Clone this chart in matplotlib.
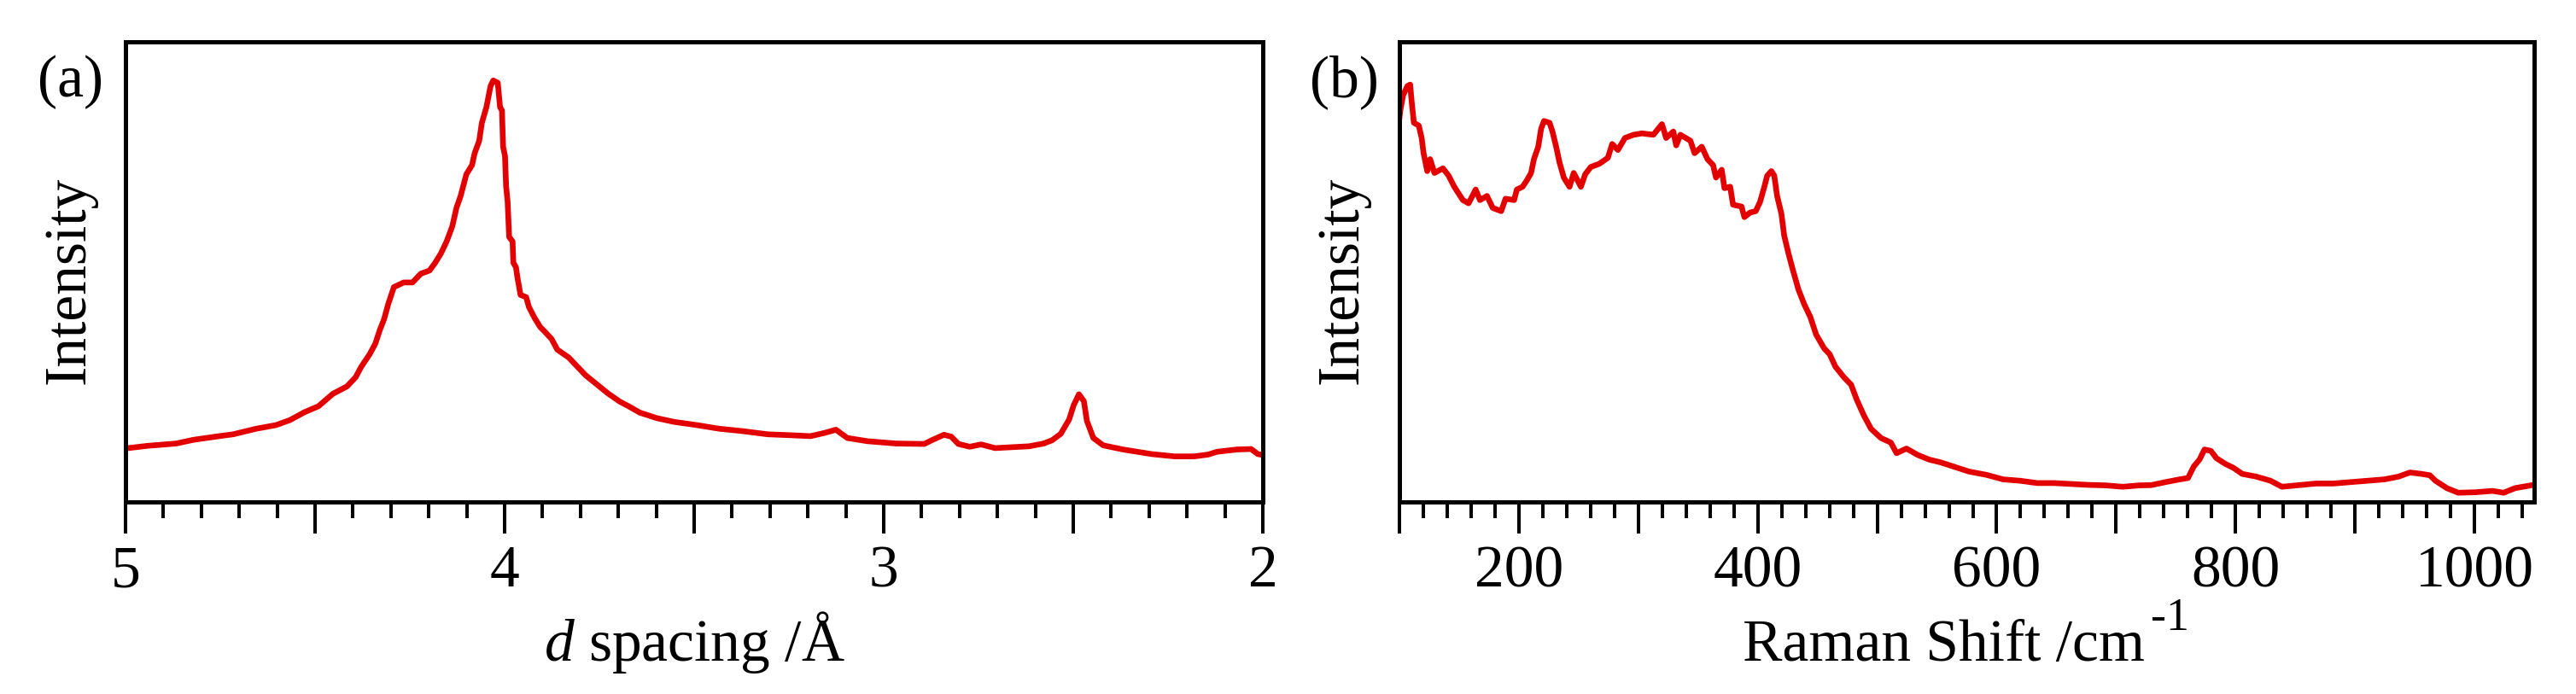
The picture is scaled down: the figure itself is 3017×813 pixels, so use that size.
import matplotlib
matplotlib.use("Agg")
import matplotlib.pyplot as plt
from matplotlib.ticker import MultipleLocator, FuncFormatter
import numpy as np

plt.rcParams['font.family'] = 'Liberation Serif'
plt.rcParams['mathtext.fontset'] = 'custom'
plt.rcParams['mathtext.rm'] = 'Liberation Serif'
plt.rcParams['mathtext.it'] = 'Liberation Serif:italic'

# (a) XRD pattern, d spacing in Angstrom vs intensity (arb. units)
d_spacing = [5.000, 4.993, 4.941, 4.866, 4.821, 4.753, 4.716, 4.656, 4.603, 4.566,
             4.528, 4.491, 4.453, 4.416, 4.393, 4.378, 4.356, 4.341, 4.329, 4.318,
             4.307, 4.292, 4.266, 4.243, 4.221, 4.198, 4.183, 4.168, 4.153, 4.138,
             4.127, 4.116, 4.101, 4.086, 4.079, 4.067, 4.060, 4.048, 4.037, 4.030,
             4.018, 4.012, 4.007, 4.004, 3.999, 3.996, 3.992, 3.988, 3.979, 3.977,
             3.970, 3.966, 3.958, 3.943, 3.936, 3.921, 3.906, 3.894, 3.876, 3.861,
             3.831, 3.808, 3.786, 3.756, 3.726, 3.696, 3.673, 3.643, 3.598, 3.553,
             3.493, 3.433, 3.373, 3.306, 3.246, 3.193, 3.156, 3.126, 3.096, 3.043,
             2.968, 2.893, 2.871, 2.841, 2.822, 2.803, 2.773, 2.743, 2.706, 2.661,
             2.616, 2.578, 2.556, 2.533, 2.511, 2.499, 2.485, 2.472, 2.464, 2.447,
             2.421, 2.369, 2.293, 2.233, 2.181, 2.144, 2.121, 2.068, 2.031, 2.013,
             2.000]
xrd_int = [11.6, 11.7, 12.2, 12.7, 13.5, 14.3, 14.7, 15.9, 16.7, 17.8,
           19.5, 20.8, 23.5, 25.1, 27.1, 29.4, 32.1, 34.4, 37.4, 39.7,
           43.0, 46.7, 47.7, 47.7, 49.6, 50.3, 52.0, 54.0, 56.6, 59.9,
           63.9, 66.5, 71.2, 73.2, 75.8, 78.5, 82.4, 85.8, 90.4, 91.6,
           91.1, 85.8, 85.1, 77.2, 75.2, 68.6, 65.2, 57.6, 56.6, 52.0,
           51.0, 48.7, 45.0, 44.5, 42.4, 40.0, 38.0, 37.0, 35.4, 33.1,
           31.4, 29.4, 27.5, 25.5, 23.5, 21.8, 20.8, 19.4, 18.2, 17.4,
           16.7, 15.9, 15.4, 14.7, 14.5, 14.3, 15.0, 15.7, 13.9, 13.2,
           12.7, 12.6, 13.5, 14.6, 14.2, 12.6, 12.0, 12.5, 11.7, 11.9,
           12.1, 12.7, 13.4, 14.8, 17.9, 21.0, 23.4, 21.9, 17.6, 13.9,
           12.3, 11.4, 10.4, 9.9, 9.9, 10.3, 10.9, 11.4, 11.5, 10.4,
           10.2]

# (b) Raman spectrum, shift in cm-1 vs intensity (arb. units)
raman_shift = [100.0, 100.7, 103.1, 106.7, 109.0, 110.2, 112.1, 116.2, 118.6, 120.2,
               123.3, 125.7, 129.3, 136.4, 141.2, 145.9, 153.1, 157.9, 163.8, 167.4,
               173.3, 178.1, 185.2, 188.8, 196.0, 198.3, 203.1, 206.7, 210.2, 212.6,
               216.2, 218.6, 221.0, 225.7, 228.1, 231.2, 234.0, 237.6, 242.4, 245.9,
               251.9, 255.5, 260.2, 267.4, 274.5, 278.1, 282.9, 288.8, 296.0, 303.1,
               312.6, 319.8, 323.3, 329.3, 331.7, 335.2, 343.6, 347.1, 353.1, 357.9,
               362.6, 365.0, 369.8, 372.1, 376.9, 379.3, 386.4, 388.8, 393.6, 398.3,
               401.9, 405.5, 407.9, 411.4, 413.8, 416.2, 419.8, 422.1, 425.7, 429.3,
               434.0, 438.8, 444.0, 448.8, 455.5, 460.2, 465.0, 472.1, 478.1, 482.9,
               488.8, 494.8, 503.1, 511.4, 516.2, 524.5, 534.0, 543.6, 553.1, 565.0,
               576.9, 591.2, 605.5, 619.8, 634.0, 648.3, 662.6, 676.9, 691.2, 705.5,
               719.8, 729.3, 741.2, 753.1, 760.2, 765.0, 769.8, 774.0, 779.3, 784.0,
               791.2, 798.3, 805.5, 817.4, 829.3, 838.8, 853.1, 867.4, 881.7, 896.0,
               910.2, 924.5, 936.4, 946.0, 955.5, 962.6, 967.4, 976.9, 986.4, 1000.7,
               1015.0, 1024.5, 1034.0, 1048.3, 1050.0]
raman_int = [83.5, 85.1, 88.4, 90.4, 90.7, 87.1, 82.4, 81.8, 79.1, 75.8,
             71.9, 74.5, 71.5, 72.5, 70.9, 68.5, 65.6, 64.9, 67.9, 65.6,
             66.5, 63.9, 63.2, 65.9, 65.6, 67.9, 68.5, 69.9, 71.5, 74.5,
             77.2, 81.1, 82.8, 82.4, 80.5, 77.2, 73.8, 70.5, 68.5, 71.5,
             68.5, 71.2, 72.8, 73.5, 74.8, 77.8, 76.5, 79.1, 79.8, 80.1,
             79.8, 82.1, 79.1, 80.5, 77.5, 79.8, 78.5, 75.8, 77.2, 74.5,
             73.2, 70.5, 72.2, 68.2, 68.5, 64.6, 64.2, 61.9, 62.9, 63.2,
             65.2, 68.5, 70.9, 71.9, 70.9, 66.5, 62.6, 57.9, 54.0, 50.5,
             46.2, 43.0, 40.2, 36.4, 33.4, 32.1, 29.4, 27.1, 25.5, 22.2,
             18.8, 15.9, 13.9, 12.9, 10.6, 11.6, 10.2, 9.2, 8.6, 7.6,
             6.6, 5.9, 4.9, 4.6, 4.1, 4.1, 3.9, 3.7, 3.6, 3.3,
             3.6, 3.65, 4.3, 4.9, 5.2, 7.7, 9.2, 11.4, 11.1, 9.5,
             8.3, 7.4, 6.1, 5.5, 4.6, 3.3, 3.65, 4.0, 4.0, 4.3,
             4.6, 4.9, 5.5, 6.4, 6.1, 5.8, 4.6, 3.0, 2.0, 2.1,
             2.4, 2.0, 3.0, 3.65, 3.8]

red = '#e30000'
fs = 50

fig = plt.figure(figsize=(30.17, 8.13), dpi=100)
ax1 = fig.add_axes([0.04872, 0.27675, 0.44150, 0.66298])
ax2 = fig.add_axes([0.54326, 0.27675, 0.44050, 0.66298])

ax1.plot(d_spacing, xrd_int, color=red, lw=4.8)
ax2.plot(raman_shift, raman_int, color=red, lw=4.8)

ax1.set_xlim(5, 2)
ax2.set_xlim(100, 1050)
for ax in (ax1, ax2):
    ax.set_ylim(0, 100)
    ax.set_yticks([])
    for s in ax.spines.values():
        s.set_linewidth(3.6)
    ax.tick_params(axis='x', which='major', direction='out', length=26.5,
                   width=2.9, labelsize=fs, pad=10, top=False)
    ax.tick_params(axis='x', which='minor', direction='out', length=13.7,
                   width=2.9, top=False)

ax1.xaxis.set_major_locator(MultipleLocator(0.5))
ax1.xaxis.set_minor_locator(MultipleLocator(0.1))
ax1.xaxis.set_major_formatter(FuncFormatter(
    lambda v, p: f"{v:.0f}" if abs(v - round(v)) < 1e-6 else ""))

ax2.xaxis.set_major_locator(MultipleLocator(100))
ax2.xaxis.set_minor_locator(MultipleLocator(20))
ax2.xaxis.set_major_formatter(FuncFormatter(
    lambda v, p: f"{v:.0f}" if round(v) % 200 == 0 else ""))

ax1.set_xlabel(r"$d$ spacing /Å", fontsize=fs, va='baseline')
ax2.set_xlabel("Raman Shift /cm", fontsize=fs, va='baseline')
ax1.xaxis.set_label_coords(0.5, -0.345)
ax2.xaxis.set_label_coords(0.48, -0.345)
# superscript "-1" written with a plain hyphen, as in the original
ax2.annotate("-1", xy=(1, 0), xycoords=ax2.xaxis.label,
             xytext=(5, 37), textcoords='offset points',
             fontsize=fs * 0.78, ha='left', va='baseline')

ax1.set_ylabel("Intensity", fontsize=fs, va='center')
ax2.set_ylabel("Intensity", fontsize=fs, va='center')
ax1.yaxis.set_label_coords(-0.0488, 0.4824)
ax2.yaxis.set_label_coords(-0.0497, 0.4824)

fig.text(0.0275, 0.882, "(a)", fontsize=fs, ha='center', va='center')
fig.text(0.5217, 0.882, "(b)", fontsize=fs, ha='center', va='center')

fig.savefig("out.png", dpi=100)
